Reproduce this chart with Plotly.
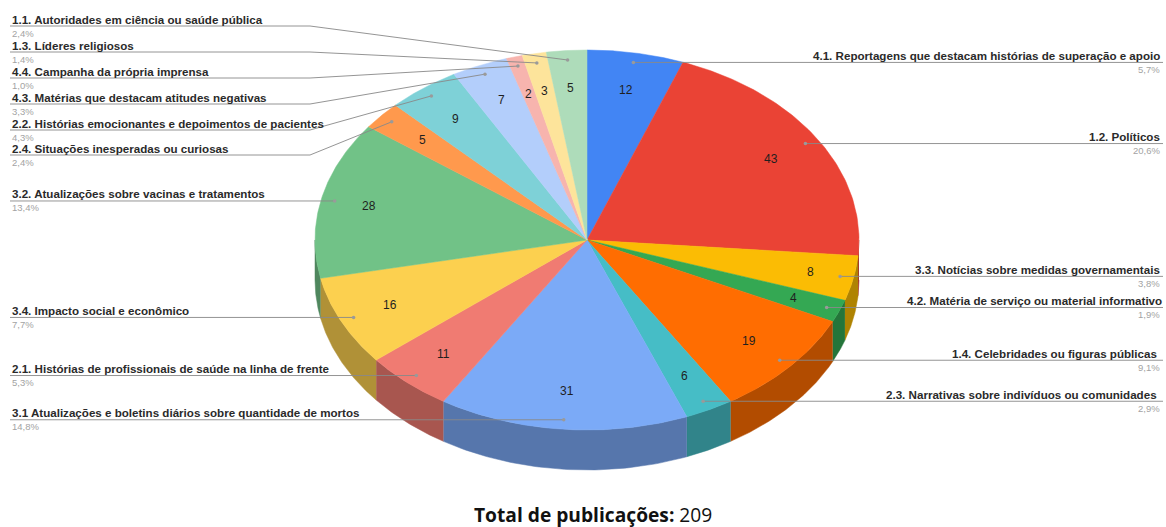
import numpy as np
import plotly.graph_objects as go

# --- data (clockwise from 12 o'clock) ---
categories = [
    "4.1. Reportagens que destacam histórias de superação e apoio",
    "1.2. Políticos",
    "3.3. Notícias sobre medidas governamentais",
    "4.2. Matéria de serviço ou material informativo",
    "1.4. Celebridades ou figuras públicas",
    "2.3. Narrativas sobre indivíduos ou comunidades",
    "3.1 Atualizações e boletins diários sobre quantidade de mortos",
    "2.1. Histórias de profissionais de saúde na linha de frente",
    "3.4. Impacto social e econômico",
    "3.2. Atualizações sobre vacinas e tratamentos",
    "2.4. Situações inesperadas ou curiosas",
    "2.2. Histórias emocionantes e depoimentos de pacientes",
    "4.3. Matérias que destacam atitudes negativas",
    "4.4. Campanha da própria imprensa",
    "1.3. Líderes religiosos",
    "1.1. Autoridades em ciência ou saúde pública",
]
values = [12, 43, 8, 4, 19, 6, 31, 11, 16, 28, 5, 9, 7, 2, 3, 5]
percents = ["5,7%", "20,6%", "3,8%", "1,9%", "9,1%", "2,9%", "14,8%", "5,3%",
            "7,7%", "13,4%", "2,4%", "4,3%", "3,3%", "1,0%", "1,4%", "2,4%"]
total_label = "209"

# --- styling / layout, kept apart from the data ---
colors = ["#4285F4", "#EA4335", "#FBBC04", "#34A853", "#FF6D01", "#46BDC6",
          "#7BAAF7", "#F07B72", "#FCD04F", "#71C287", "#FF994D", "#7ED1D7",
          "#B3CEFB", "#F7B4AE", "#FDE49B", "#AEDCBA"]
CX, CY, RX, RY, DEPTH = 587.0, 240.0, 272.0, 190.0, 40.0
DOT_R = 0.95
VALUE_R = {2: 0.84, 3: 0.82, 9: 0.82}
# slanted leaders: index of slice -> y of the underline
UNDERLINE_Y = {15: 26, 14: 52, 13: 78, 12: 104, 11: 130, 10: 155}
RIGHT_EDGE = {3: 1164, 4: 1159, 5: 1159}
LEFT_X, BEND_X, RIGHT_X = 10, 310, 1163
LINE_GREY = "#8a8a8a"


def darker(hex_color, k=0.7):
    r, g, b = (int(hex_color[i:i + 2], 16) for i in (1, 3, 5))
    return f"rgb({int(r * k)},{int(g * k)},{int(b * k)})"


def px(t, r=1.0):
    return CX + RX * r * np.sin(t)


def py(t, r=1.0):
    return CY - RY * r * np.cos(t)


v = np.array(values, dtype=float)
edges = np.concatenate([[0], np.cumsum(v)]) / v.sum() * 2 * np.pi
mids = (edges[:-1] + edges[1:]) / 2

fig = go.Figure()


def polygon(xs, ys, color):
    fig.add_trace(go.Scatter(x=xs, y=ys, mode="lines", fill="toself", fillcolor=color,
                             line=dict(color=color, width=0.5), hoverinfo="skip",
                             showlegend=False))


# side walls: only the part of the rim that faces the viewer
for i, c in enumerate(colors):
    a, b = max(edges[i], np.pi / 2), min(edges[i + 1], 1.5 * np.pi)
    if a >= b:
        continue
    t = np.linspace(a, b, 60)
    xs = np.concatenate([px(t), px(t[::-1])])
    ys = np.concatenate([py(t), py(t[::-1]) + DEPTH])
    polygon(xs, ys, darker(c))

# top faces
for i, c in enumerate(colors):
    t = np.linspace(edges[i], edges[i + 1], 80)
    polygon(np.concatenate([[CX], px(t), [CX]]), np.concatenate([[CY], py(t), [CY]]), c)

annotations = []


def text(x, y, s, size, color, anchor="left", family="Liberation Sans"):
    annotations.append(dict(x=x, y=y, xref="x", yref="y", text=s, showarrow=False,
                            xanchor=anchor, yanchor="middle", align=anchor,
                            font=dict(family=family, size=size, color=color)))


# leaders, captions, percentages
for i, cat in enumerate(categories):
    dx, dy = float(px(mids[i], DOT_R)), float(py(mids[i], DOT_R))
    on_right = mids[i] < np.pi
    ly = UNDERLINE_Y.get(i, dy)
    if on_right:
        xs, ys = [dx, RIGHT_X], [dy, dy]
    elif i in UNDERLINE_Y:
        xs, ys = [dx, BEND_X, LEFT_X], [dy, ly, ly]
    else:
        xs, ys = [dx, LEFT_X], [dy, dy]
    fig.add_trace(go.Scatter(x=xs, y=ys, mode="lines", line=dict(color=LINE_GREY, width=1),
                             opacity=0.9, hoverinfo="skip", showlegend=False))
    fig.add_trace(go.Scatter(x=[dx], y=[dy], mode="markers",
                             marker=dict(color="#9a9a9a", size=3.5), hoverinfo="skip",
                             showlegend=False))
    if on_right:
        text(RIGHT_EDGE.get(i, 1162), ly - 7, f"<b>{cat}</b>", 11.6, "#2a2a2a", "right")
        text(1162, ly + 7, percents[i], 9.5, "#a3a3a3", "right")
    else:
        text(LEFT_X, ly - 7, f"<b>{cat}</b>", 11.6, "#2a2a2a")
        text(LEFT_X, ly + 7, percents[i], 9.5, "#a3a3a3")

# slice values
for i, val in enumerate(values):
    r = VALUE_R.get(i, 0.8)
    text(float(px(mids[i], r)), float(py(mids[i], r)), str(val), 12, "#1f1f1f", "center")

text(593, 514, f"<b>Total de publicações:</b> {total_label}", 19.2, "#111111", "center", "Open Sans")

fig.update_layout(
    width=1166, height=527, margin=dict(l=0, r=0, t=0, b=0),
    paper_bgcolor="white", plot_bgcolor="white", showlegend=False,
    xaxis=dict(range=[0, 1166], visible=False, fixedrange=True),
    yaxis=dict(range=[527, 0], visible=False, fixedrange=True),
    annotations=annotations,
)
fig.write_html("out.html", config={"displayModeBar": False},
               post_script="document.body.style.margin='0';document.body.style.overflow='hidden';")
